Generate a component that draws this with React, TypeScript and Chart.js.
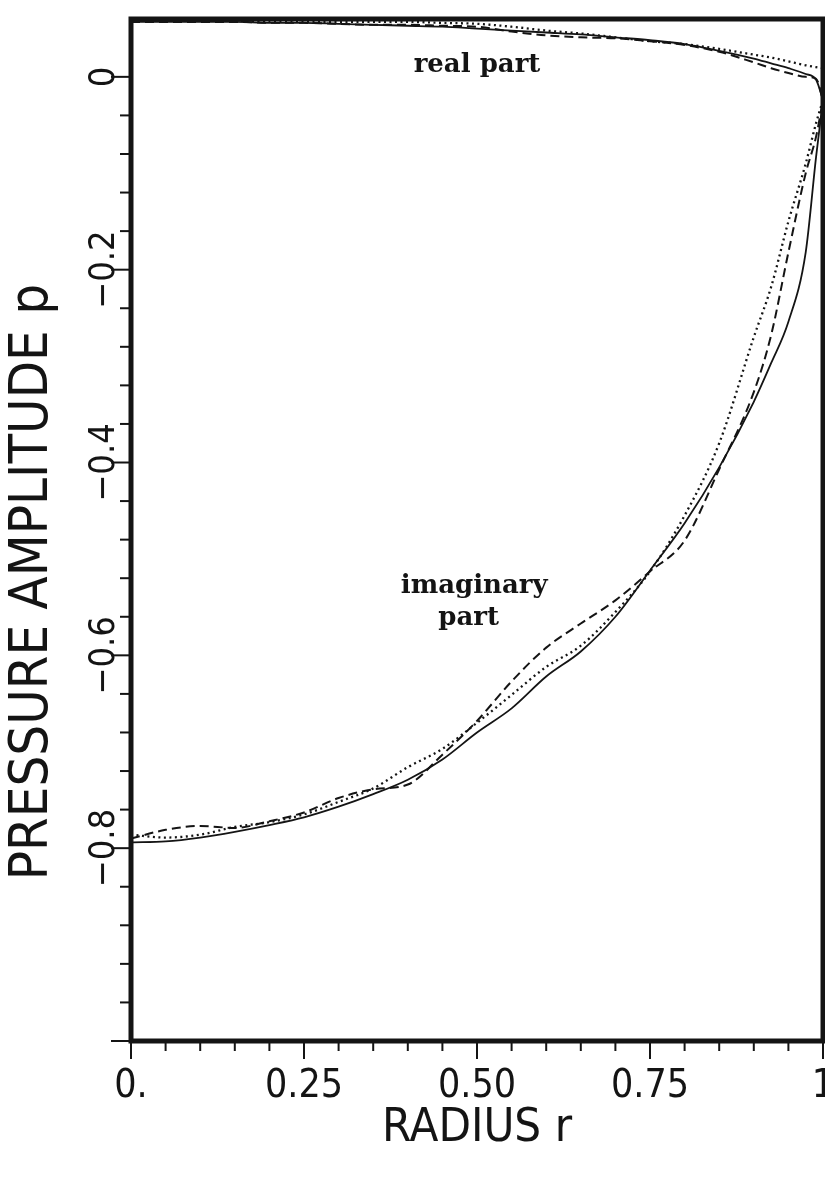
import React, { useEffect, useRef } from "react";
import { Chart, registerables } from "chart.js";

Chart.register(...registerables);

// ---- data ----
const radius = [0, 0.05, 0.1, 0.15, 0.2, 0.25, 0.3, 0.35, 0.4, 0.45, 0.5, 0.55, 0.6, 0.65, 0.7, 0.75, 0.8, 0.85, 0.9, 0.925, 0.95, 0.975, 0.99, 1];

const solidReal = [0.057, 0.057, 0.057, 0.057, 0.056, 0.056, 0.055, 0.054, 0.053, 0.052, 0.05, 0.048, 0.046, 0.044, 0.041, 0.038, 0.034, 0.027, 0.019, 0.014, 0.009, 0.003, -0.003, -0.024];
const dashedReal = [0.057, 0.057, 0.057, 0.057, 0.056, 0.056, 0.055, 0.054, 0.054, 0.053, 0.052, 0.047, 0.043, 0.041, 0.04, 0.037, 0.033, 0.026, 0.015, 0.009, 0.004, 0.0, -0.002, -0.024];
const dottedReal = [0.058, 0.058, 0.058, 0.058, 0.058, 0.057, 0.057, 0.057, 0.057, 0.056, 0.055, 0.052, 0.048, 0.045, 0.041, 0.037, 0.034, 0.029, 0.023, 0.02, 0.016, 0.012, 0.01, 0.009];

const solidImag = [-0.794, -0.793, -0.789, -0.783, -0.776, -0.768, -0.757, -0.744, -0.729, -0.708, -0.68, -0.655, -0.622, -0.596, -0.56, -0.512, -0.463, -0.405, -0.337, -0.297, -0.254, -0.182, -0.083, -0.024];
const dashedImag = [-0.79, -0.781, -0.777, -0.779, -0.772, -0.763, -0.748, -0.739, -0.734, -0.703, -0.668, -0.627, -0.592, -0.567, -0.543, -0.513, -0.481, -0.407, -0.327, -0.268, -0.182, -0.1, -0.062, -0.024];
const dottedImag = [-0.786, -0.789, -0.786, -0.778, -0.773, -0.765, -0.752, -0.738, -0.716, -0.697, -0.67, -0.641, -0.612, -0.59, -0.555, -0.513, -0.455, -0.38, -0.27, -0.218, -0.15, -0.09, -0.048, -0.024];

const xTickValues = [0, 0.25, 0.5, 0.75, 1];
const xTickLabels = ["0.", "0.25", "0.50", "0.75", "1"];
const yTickValues = [0, -0.2, -0.4, -0.6, -0.8];
const yTickLabels = ["0", "\u22120.2", "\u22120.4", "\u22120.6", "\u22120.8"];

const xTitle = "RADIUS r";
const yTitle = "PRESSURE AMPLITUDE p";

const noteTexts = ["real part", "imaginary", "part"];
const noteX = [0.5, 0.496, 0.488];
const noteY = [0.005, -0.535, -0.569];

// ---- styling ----
const INK = "#141414";
const NARROW = "'Liberation Sans Narrow', 'DejaVu Sans Condensed', 'Roboto Condensed', 'Liberation Sans', sans-serif";
const SERIF = "'DejaVu Serif', 'Liberation Serif', serif";

const near = (v: number, step: number) => Math.abs(v / step - Math.round(v / step)) < 1e-6;

const pts = (ys: number[]) => radius.map((r, i) => ({ x: r, y: ys[i] }));

const decorPlugin = {
  id: "decor",
  afterDraw(chart: any) {
    const { ctx, chartArea: a, scales } = chart;
    const xs = scales.x;
    const ys = scales.y;
    ctx.save();
    ctx.strokeStyle = INK;
    ctx.fillStyle = INK;
    ctx.lineWidth = 2;
    // x tick marks
    xs.ticks.forEach((t: any) => {
      if (!near(t.value, 0.05)) return;
      const px = xs.getPixelForValue(t.value);
      const len = near(t.value, 0.25) ? 18 : 10;
      ctx.beginPath();
      ctx.moveTo(px, a.bottom);
      ctx.lineTo(px, a.bottom + len);
      ctx.stroke();
    });
    // y tick marks
    ys.ticks.forEach((t: any) => {
      if (!near(t.value, 0.04)) return;
      const py = ys.getPixelForValue(t.value);
      const len = near(t.value, 0.2) ? 20 : 11;
      ctx.beginPath();
      ctx.moveTo(a.left, py);
      ctx.lineTo(a.left - len, py);
      ctx.stroke();
    });
    // frame
    ctx.lineWidth = 5;
    ctx.strokeRect(a.left, a.top, a.right - a.left, a.bottom - a.top);
    // in-plot notes
    ctx.font = "bold 26px " + SERIF;
    ctx.textAlign = "center";
    ctx.textBaseline = "alphabetic";
    noteTexts.forEach((txt, i) => {
      ctx.fillText(txt, xs.getPixelForValue(noteX[i]), ys.getPixelForValue(noteY[i]));
    });
    // y axis title (rotated)
    ctx.font = "54px " + NARROW;
    ctx.textBaseline = "middle";
    ctx.translate(33, a.top + (a.bottom - a.top) * 0.551);
    ctx.rotate(-Math.PI / 2);
    ctx.fillText(yTitle, 0, 0);
    ctx.restore();
  },
};

export default function App() {
  const ref = useRef<HTMLCanvasElement | null>(null);
  useEffect(() => {
    document.body.style.margin = "0";
    const canvas = ref.current;
    if (!canvas) return;
    const lineBase = { pointRadius: 0, fill: false, borderColor: INK, cubicInterpolationMode: "monotone" as const };
    const solid = { ...lineBase, borderWidth: 1.8 };
    const dashed = { ...lineBase, borderWidth: 2, borderDash: [9, 5] };
    const dotted = { ...lineBase, borderWidth: 2.3, borderDash: [2, 3.5] };
    const chart = new Chart(canvas, {
      type: "line",
      data: {
        datasets: [
          { label: "solid real", data: pts(solidReal), ...solid },
          { label: "dashed real", data: pts(dashedReal), ...dashed },
          { label: "dotted real", data: pts(dottedReal), ...dotted },
          { label: "solid imaginary", data: pts(solidImag), ...solid },
          { label: "dashed imaginary", data: pts(dashedImag), ...dashed },
          { label: "dotted imaginary", data: pts(dottedImag), ...dotted },
        ],
      },
      options: {
        animation: false,
        responsive: false,
        devicePixelRatio: 1,
        layout: { padding: { top: 19, right: 2, left: 0, bottom: 0 } },
        plugins: { legend: { display: false }, tooltip: { enabled: false } },
        scales: {
          x: {
            type: "linear",
            min: 0,
            max: 1,
            grid: { display: false, drawTicks: false },
            border: { display: false },
            afterFit: (s: any) => {
              s.height = 136;
              s.paddingLeft = 0;
              s.paddingRight = 0;
            },
            ticks: {
              stepSize: 0.05,
              autoSkip: false,
              maxRotation: 0,
              minRotation: 0,
              padding: 22,
              color: INK,
              font: { family: NARROW, size: 39 },
              callback: (v: any) => {
                const i = xTickValues.findIndex((t) => Math.abs(t - Number(v)) < 1e-6);
                return i >= 0 ? xTickLabels[i] : "";
              },
            },
            title: {
              display: true,
              text: xTitle,
              color: INK,
              font: { family: NARROW, size: 47 },
              padding: { top: 0, bottom: 20 },
            },
          },
          y: {
            type: "linear",
            min: -1,
            max: 0.06,
            grid: { display: false, drawTicks: false },
            border: { display: false },
            afterFit: (s: any) => {
              s.width = 131;
              s.paddingTop = 0;
              s.paddingBottom = 0;
            },
            ticks: {
              stepSize: 0.04,
              autoSkip: false,
              minRotation: 90,
              maxRotation: 90,
              crossAlign: "center",
              padding: -13,
              color: INK,
              font: { family: NARROW, size: 36 },
              callback: (v: any) => {
                const i = yTickValues.findIndex((t) => Math.abs(t - Number(v)) < 1e-6);
                return i >= 0 ? yTickLabels[i] : "";
              },
            },
          },
        },
      },
      plugins: [decorPlugin],
    });
    return () => chart.destroy();
  }, []);
  return (
    <div style={{ width: 825, height: 1177, background: "#fff" }}>
      <canvas ref={ref} width={825} height={1177} style={{ display: "block" }} />
    </div>
  );
}
